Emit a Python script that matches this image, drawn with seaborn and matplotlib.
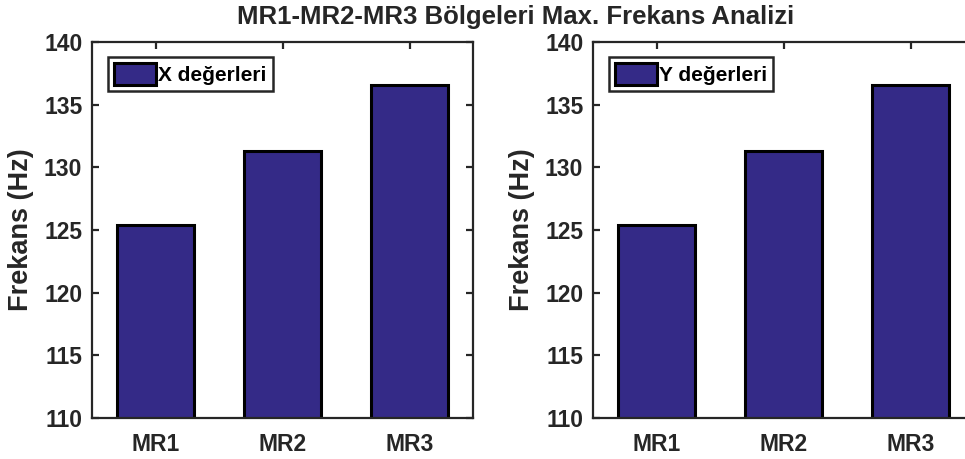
import matplotlib
matplotlib.use("Agg")
import matplotlib.pyplot as plt
import seaborn as sns
import pandas as pd

regions = ["MR1", "MR2", "MR3"]
x_values = [125.4, 131.3, 136.6]
y_values = [125.4, 131.3, 136.6]
series_labels = ["X değerleri", "Y değerleri"]
y_ticks = [110, 115, 120, 125, 130, 135, 140]
title = "MR1-MR2-MR3 Bölgeleri Max. Frekans Analizi"
ylabel = "Frekans (Hz)"

sns.set_theme(style="white")
plt.rcParams["font.family"] = ["Liberation Sans", "DejaVu Sans"]
plt.rcParams["font.weight"] = "bold"

bar_color = "#342A87"
spine_color = "#262626"

fig = plt.figure(figsize=(9.65, 4.59), dpi=100)
W, H = 965, 459
unit_px = 127.0
axes_px = [(92, 42, 381, 376), (593, 42, 420, 376)]

for i, ((lx, ty, w, h), vals, lab) in enumerate(zip(axes_px, [x_values, y_values], series_labels)):
    ax = fig.add_axes([lx / W, 1 - (ty + h) / H, w / W, h / H])
    df = pd.DataFrame({"Bölge": regions, "Frekans": vals})
    sns.barplot(data=df, x="Bölge", y="Frekans", color=bar_color, saturation=1,
                edgecolor="black", linewidth=2.2, width=0.6, label=lab, ax=ax)
    ax.set_ylim(110, 140)
    ax.set_xlim(-0.5, -0.5 + w / unit_px)
    ax.set_yticks(y_ticks)
    ax.set_yticklabels([str(t) for t in y_ticks], fontsize=16.5, fontweight="bold", color=spine_color)
    ax.set_xticks(range(len(regions)))
    ax.set_xticklabels(regions, fontsize=16.5, fontweight="bold", color=spine_color)
    ax.set_xlabel("")
    ax.set_ylabel(ylabel, fontsize=19.5, fontweight="bold", color=spine_color, labelpad=7)
    for s in ax.spines.values():
        s.set_visible(True)
        s.set_color(spine_color)
        s.set_linewidth(1.6)
    ax.tick_params(direction="in", length=5, width=1.6, color=spine_color,
                   top=True, right=True, bottom=True, left=True)
    ax.tick_params(axis="y", pad=7)
    ax.tick_params(axis="x", pad=11)
    if i == 1:
        ax.spines["right"].set_visible(False)
        ax.tick_params(right=False)
    leg = ax.legend(loc="upper left", bbox_to_anchor=(16 / w, 1 - 15 / h), borderaxespad=0,
                    prop={"weight": "bold", "size": 15}, fancybox=False,
                    framealpha=1, edgecolor=spine_color, handlelength=2.0,
                    handleheight=1.2, handletextpad=0.1, borderpad=0.3)
    leg.get_frame().set_linewidth(1.8)
    for t in leg.get_texts():
        t.set_color("black")

fig.text(516 / W, 1 - 17 / H, title, ha="center", va="center",
         fontsize=18.5, fontweight="bold", color=spine_color)

fig.savefig("out.png", dpi=100)
